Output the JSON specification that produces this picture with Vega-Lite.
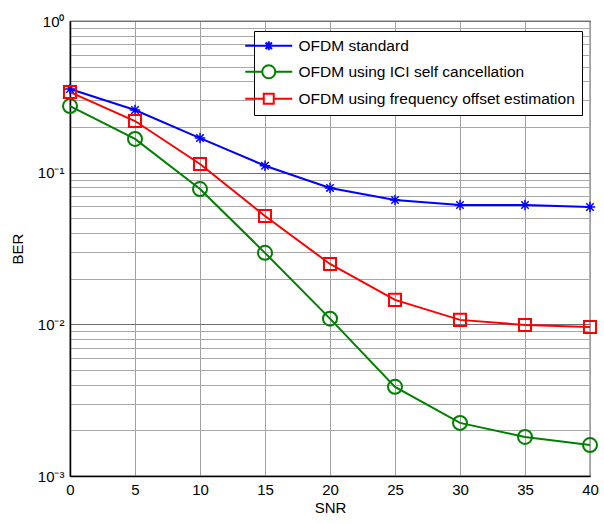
{
  "$schema": "https://vega.github.io/schema/vega-lite/v6.json",
  "width": 520,
  "height": 455,
  "autosize": {"type": "none"},
  "padding": {"left": 70, "top": 21, "right": 14, "bottom": 48},
  "background": "white",
  "config": {
    "font": "Liberation Sans",
    "view": {"stroke": "black", "strokeWidth": 1.2},
    "axis": {
      "labelFont": "Liberation Sans",
      "labelFontSize": 15,
      "labelColor": "black",
      "titleFont": "Liberation Sans",
      "titleFontSize": 15,
      "titleFontWeight": "normal",
      "titleColor": "black",
      "domainColor": "black",
      "domainWidth": 1.5,
      "ticks": false,
      "gridWidth": 1
    },
    "legend": {
      "title": null,
      "orient": "none",
      "legendX": 184,
      "legendY": 10,
      "direction": "vertical",
      "symbolSize": 100,
      "symbolStrokeWidth": 2,
      "symbolOpacity": 1,
      "symbolOffset": 0,
      "labelOffset": 22,
      "labelFont": "Liberation Sans",
      "labelFontSize": 15.5,
      "labelColor": "black",
      "labelLimit": 400,
      "rowPadding": 6,
      "padding": 7,
      "strokeColor": "black",
      "fillColor": "white",
      "cornerRadius": 0
    }
  },
  "data": {
    "values": [
      {"snr": 0, "ber": 0.356, "series": "OFDM standard"},
      {"snr": 5, "ber": 0.259, "series": "OFDM standard"},
      {"snr": 10, "ber": 0.169, "series": "OFDM standard"},
      {"snr": 15, "ber": 0.111, "series": "OFDM standard"},
      {"snr": 20, "ber": 0.0793, "series": "OFDM standard"},
      {"snr": 25, "ber": 0.066, "series": "OFDM standard"},
      {"snr": 30, "ber": 0.0612, "series": "OFDM standard"},
      {"snr": 35, "ber": 0.0612, "series": "OFDM standard"},
      {"snr": 40, "ber": 0.0594, "series": "OFDM standard"},
      {"snr": 0, "ber": 0.275, "series": "OFDM using ICI self cancellation"},
      {"snr": 5, "ber": 0.167, "series": "OFDM using ICI self cancellation"},
      {"snr": 10, "ber": 0.078, "series": "OFDM using ICI self cancellation"},
      {"snr": 15, "ber": 0.0296, "series": "OFDM using ICI self cancellation"},
      {"snr": 20, "ber": 0.0109, "series": "OFDM using ICI self cancellation"},
      {"snr": 25, "ber": 0.00387, "series": "OFDM using ICI self cancellation"},
      {"snr": 30, "ber": 0.00224, "series": "OFDM using ICI self cancellation"},
      {"snr": 35, "ber": 0.00181, "series": "OFDM using ICI self cancellation"},
      {"snr": 40, "ber": 0.0016, "series": "OFDM using ICI self cancellation"},
      {"snr": 0, "ber": 0.34, "series": "OFDM using frequency offset estimation"},
      {"snr": 5, "ber": 0.219, "series": "OFDM using frequency offset estimation"},
      {"snr": 10, "ber": 0.114, "series": "OFDM using frequency offset estimation"},
      {"snr": 15, "ber": 0.0518, "series": "OFDM using frequency offset estimation"},
      {"snr": 20, "ber": 0.025, "series": "OFDM using frequency offset estimation"},
      {"snr": 25, "ber": 0.0145, "series": "OFDM using frequency offset estimation"},
      {"snr": 30, "ber": 0.0107, "series": "OFDM using frequency offset estimation"},
      {"snr": 35, "ber": 0.0099, "series": "OFDM using frequency offset estimation"},
      {"snr": 40, "ber": 0.0096, "series": "OFDM using frequency offset estimation"}
    ]
  },
  "encoding": {
    "x": {
      "field": "snr",
      "type": "quantitative",
      "scale": {"domain": [0, 40], "nice": false, "zero": false},
      "axis": {
        "title": "SNR",
        "values": [0, 5, 10, 15, 20, 25, 30, 35, 40],
        "labelPadding": 6,
        "titlePadding": 3,
        "gridColor": "#a0a0a0",
        "labelFlush": false
      }
    },
    "y": {
      "field": "ber",
      "type": "quantitative",
      "scale": {"type": "log", "domain": [0.001, 1], "nice": false},
      "axis": {
        "title": "BER",
        "titlePadding": 12,
        "labelPadding": 6,
        "values": [0.001, 0.002, 0.003, 0.004, 0.005, 0.006, 0.007, 0.008, 0.009, 0.01, 0.02, 0.03, 0.04, 0.05, 0.06, 0.07, 0.08, 0.09, 0.1, 0.2, 0.3, 0.4, 0.5, 0.6, 0.7, 0.8, 0.9, 1],
        "labelExpr": "abs(log(datum.value)/LN10 - round(log(datum.value)/LN10)) < 0.000001 ? (round(log(datum.value)/LN10) == 0 ? '10⁰' : round(log(datum.value)/LN10) == -1 ? '10⁻¹' : round(log(datum.value)/LN10) == -2 ? '10⁻²' : '10⁻³') : ''",
        "gridColor": {
          "condition": {"test": "abs(log(datum.value)/LN10 - round(log(datum.value)/LN10)) < 0.000001", "value": "#707070"},
          "value": "#a8a8a8"
        },
        "labelFlush": false,
        "labelOverlap": false
      }
    },
    "color": {
      "field": "series",
      "type": "nominal",
      "scale": {
        "domain": ["OFDM standard", "OFDM using ICI self cancellation", "OFDM using frequency offset estimation"],
        "range": ["#0000ff", "#008000", "#ff0000"]
      }
    }
  },
  "layer": [
    {
      "mark": {"type": "line", "strokeWidth": 2}
    },
    {
      "transform": [{"filter": "datum.series == 'OFDM standard'"}],
      "mark": {"type": "point", "filled": false, "size": 196, "strokeWidth": 1.5, "opacity": 1,
        "shape": "M-0.75,0H0.75M0,-0.75V0.75M-0.53,-0.53L0.53,0.53M-0.53,0.53L0.53,-0.53"}
    },
    {
      "transform": [{"filter": "datum.series == 'OFDM using ICI self cancellation'"}],
      "mark": {"type": "point", "filled": false, "size": 196, "strokeWidth": 2, "opacity": 1,
        "shape": "M1,0A1,1,0,1,1,-1,0A1,1,0,1,1,1,0Z"}
    },
    {
      "transform": [{"filter": "datum.series == 'OFDM using frequency offset estimation'"}],
      "mark": {"type": "point", "filled": false, "size": 196, "strokeWidth": 2, "opacity": 1,
        "shape": "M-0.86,-0.86H0.86V0.86H-0.86Z"}
    },
    {
      "mark": {"type": "point", "filled": false, "opacity": 0, "size": 1},
      "encoding": {
        "shape": {
          "field": "series",
          "type": "nominal",
          "scale": {
            "domain": ["OFDM standard", "OFDM using ICI self cancellation", "OFDM using frequency offset estimation"],
            "range": [
              "M-4.7,0H4.7M0,-0.9V0.9M-0.64,-0.64L0.64,0.64M-0.64,0.64L0.64,-0.64",
              "M-4.7,0H-1.3M1.3,0H4.7M1.3,0A1.3,1.3,0,1,1,-1.3,0A1.3,1.3,0,1,1,1.3,0Z",
              "M-4.7,0H-1M1,0H4.7M-1,-1H1V1H-1Z"
            ]
          }
        }
      }
    }
  ]
}
